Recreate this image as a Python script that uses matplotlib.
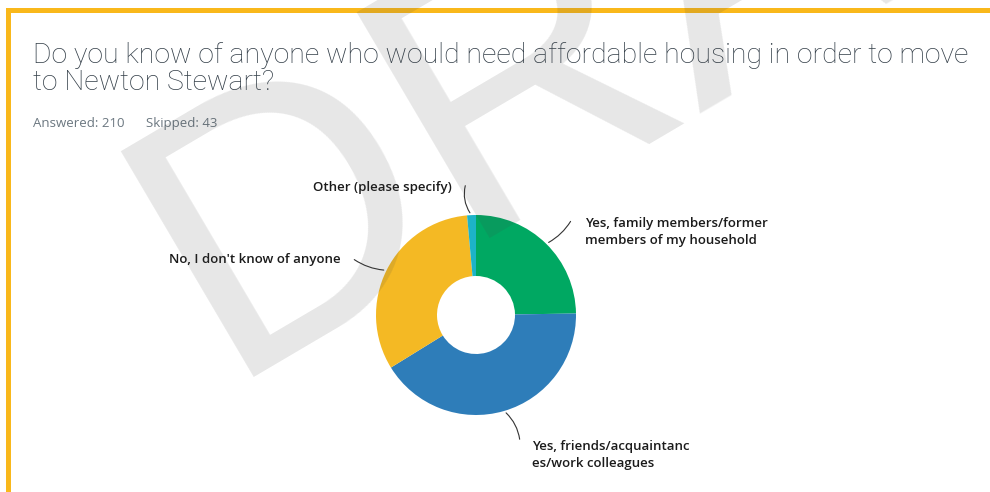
import matplotlib
matplotlib.use('Agg')
import numpy as np
import matplotlib.pyplot as plt
from matplotlib.patches import Rectangle

# Survey answers (count of 210 answered)
labels = ['Yes, family members/former\nmembers of my household',
          'Yes, friends/acquaintanc\nes/work colleagues',
          "No, I don't know of anyone",
          'Other (please specify)']
counts = [52, 87, 68, 3]
colors = ['#00A862', '#2E7DB9', '#F4B924', '#1DB3C8']

title_lines = ['Do you know of anyone who would need affordable housing in order to move',
               'to Newton Stewart?']
answered = 210
skipped = 43

W, H = 990, 492
fig = plt.figure(figsize=(W / 100, H / 100), dpi=100)
fig.patch.set_facecolor('white')

def fx(px):
    return px / W

def fy(py):
    return 1 - py / H

# Yellow frame (top and left edges)
fig.add_artist(Rectangle((fx(6), fy(13)), 1, 5 / H, transform=fig.transFigure,
                         color='#F9B81B', lw=0, zorder=1))
fig.add_artist(Rectangle((fx(6), 0), 5 / W, fy(8), transform=fig.transFigure,
                         color='#F9B81B', lw=0, zorder=1))

# Title: shrink/grow so the first line spans the same width as the reference
title_font = dict(family='Roboto', weight='light', color='#333e48', va='baseline')
t1 = fig.text(fx(33), fy(63), title_lines[0], fontsize=21, **title_font)
t2 = fig.text(fx(33), fy(90), title_lines[1], fontsize=21, **title_font)
r = fig.canvas.get_renderer()
fs = 21 * 935 / t1.get_window_extent(r).width
t1.set_fontsize(fs)
t2.set_fontsize(fs)

fig.text(fx(33), fy(127), f'Answered: {answered}', fontsize=9.5, family='Open Sans',
         color='#6b7780', va='baseline')
fig.text(fx(146), fy(127), f'Skipped: {skipped}', fontsize=9.5, family='Open Sans',
         color='#6b7780', va='baseline')

# Donut: centre (476, 315) px, outer radius 100 px
ax = fig.add_axes([fx(376), fy(415), 200 / W, 200 / H])
wedges, _ = ax.pie(counts, colors=colors, startangle=90, counterclock=False,
                   radius=1, wedgeprops=dict(width=0.61, linewidth=0))
ax.set_xlim(-1, 1)
ax.set_ylim(-1, 1)
ax.axis('off')

# label positions (axes data units) and leader bends
text_pos = [(1.09, 0.83), (0.56, -1.40), (-1.35, 0.55), (-0.24, 1.28)]
line_end = [(0.96, 0.96), (0.44, -1.27), (-1.24, 0.57), (-0.10, 1.32)]
aligns = ['left', 'left', 'right', 'right']
rads = [-0.15, 0.2, 0.15, 0.25]
for w, lab, tp, le, ha, rad in zip(wedges, labels, text_pos, line_end, aligns, rads):
    ang = np.deg2rad((w.theta1 + w.theta2) / 2)
    x0, y0 = np.cos(ang), np.sin(ang)
    ax.annotate('', xy=(x0, y0), xytext=le,
                arrowprops=dict(arrowstyle='-', color='#333333', lw=0.8,
                                connectionstyle=f'arc3,rad={rad}'),
                annotation_clip=False)
    ax.text(tp[0], tp[1], lab, ha=ha, va='center', fontsize=9.5,
            family='Open Sans', weight='semibold', color='#1b1b1b',
            linespacing=1.35, clip_on=False)

# DRAFT watermark
fig.text(fx(223), fy(377), 'DRAFT', fontsize=274, family='Liberation Sans',
         color='#444444', alpha=0.13, rotation=30.5, rotation_mode='anchor',
         ha='left', va='baseline', zorder=10)

fig.savefig('out.png', dpi=100, facecolor='white')
